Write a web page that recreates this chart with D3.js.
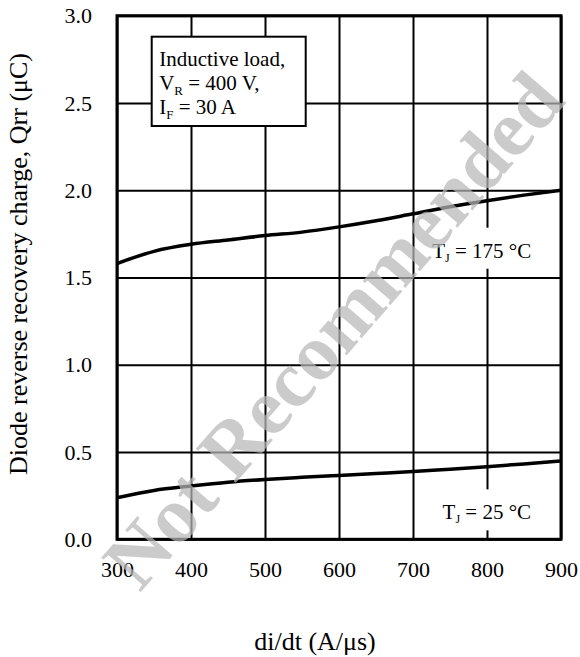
<!DOCTYPE html>
<html>
<head>
<meta charset="utf-8">
<script src="https://cdn.jsdelivr.net/npm/d3@7"></script>
<style>
  html, body { margin: 0; padding: 0; background: #fff; }
  svg { display: block; font-family: "Liberation Serif", "Times New Roman", serif; }
</style>
</head>
<body>
<svg id="chart" width="580" height="657"></svg>
<script>
// di/dt values (A/µs) and recovery charge Qrr (µC) per junction temperature
const didt = [300, 350, 400, 450, 500, 550, 600, 650, 700, 750, 800, 850, 900];
const qrr175 = [1.58, 1.65, 1.69, 1.715, 1.74, 1.76, 1.79, 1.825, 1.865, 1.905, 1.94, 1.972, 2.0];
const qrr25 = [0.238, 0.28, 0.305, 0.327, 0.343, 0.355, 0.366, 0.377, 0.388, 0.402, 0.416, 0.432, 0.449];
const xTicks = [300, 400, 500, 600, 700, 800, 900];
const yTicks = [0.0, 0.5, 1.0, 1.5, 2.0, 2.5, 3.0];

const svg = d3.select("#chart");
const plotL = 117, plotR = 561, plotT = 15.7, plotB = 539.3;
const w = plotR - plotL, h = plotB - plotT;

const x = d3.scaleLinear().domain([300, 900]).range([0, w]);
const y = d3.scaleLinear().domain([0, 3]).range([h, 0]);

const g = svg.append("g").attr("transform", `translate(${plotL},${plotT})`);

// vertical grid + x tick labels
const xAxis = g.append("g")
  .attr("transform", `translate(0,${h})`)
  .call(d3.axisBottom(x).tickValues(xTicks).tickSize(-h).tickPadding(22).tickFormat(d3.format("d")));
xAxis.select(".domain").remove();
xAxis.selectAll("line").attr("stroke", "#000").attr("stroke-width", 2);
xAxis.selectAll("text").attr("font-size", 22).attr("fill", "#000")
  .attr("font-family", "Liberation Serif, serif");

// horizontal grid + y tick labels
const yAxis = g.append("g")
  .call(d3.axisLeft(y).tickValues(yTicks).tickSize(-w).tickPadding(25).tickFormat(d3.format(".1f")));
yAxis.select(".domain").remove();
yAxis.selectAll("line").attr("stroke", "#000").attr("stroke-width", 2);
yAxis.selectAll("text").attr("font-size", 22).attr("fill", "#000")
  .attr("font-family", "Liberation Serif, serif");

// plot frame
g.append("rect").attr("x", 0).attr("y", 0).attr("width", w).attr("height", h)
  .attr("fill", "none").attr("stroke", "#000").attr("stroke-width", 3);

// curves
const line = d3.line().x((d, i) => x(didt[i])).y(d => y(d)).curve(d3.curveMonotoneX);
[qrr175, qrr25].forEach(s => {
  g.append("path").datum(s).attr("d", line)
    .attr("fill", "none").attr("stroke", "#000").attr("stroke-width", 3.5);
});

// curve labels on white patches
function tempLabel(tx, baseline, temp) {
  g.append("rect").attr("x", tx - 8).attr("y", baseline - 30).attr("width", 118).attr("height", 41)
    .attr("fill", "#fff");
  const t = g.append("text").attr("x", tx).attr("y", baseline)
    .attr("font-size", 21).attr("fill", "#000");
  t.append("tspan").text("T");
  t.append("tspan").attr("font-size", 12).attr("dy", 4).text("J");
  t.append("tspan").attr("dy", -4).text(` = ${temp} °C`);
}
tempLabel(x(726), y(1.665) + 9, 175);
tempLabel(x(740), y(0.16) + 8, 25);

// conditions box
const bx = 151.7 - plotL, by = 36.7 - plotT;
g.append("rect").attr("x", bx).attr("y", by).attr("width", 154).attr("height", 89.3)
  .attr("fill", "#fff").attr("stroke", "#000").attr("stroke-width", 2);
const cond = g.append("text").attr("font-size", 21).attr("fill", "#000");
cond.append("tspan").attr("x", bx + 7.5).attr("y", by + 29).text("Inductive load,");
cond.append("tspan").attr("x", bx + 7.5).attr("y", by + 53.5).text("V");
cond.append("tspan").attr("font-size", 13).attr("dy", 5).text("R");
cond.append("tspan").attr("dy", -5).text(" = 400 V,");
cond.append("tspan").attr("x", bx + 7.5).attr("y", by + 77.5).text("I");
cond.append("tspan").attr("font-size", 13).attr("dy", 5).text("F");
cond.append("tspan").attr("dy", -5).text(" = 30 A");

// axis titles
svg.append("text").attr("x", 315).attr("y", 650).attr("text-anchor", "middle")
  .attr("font-size", 26).text("di/dt (A/μs)");
svg.append("text").attr("transform", "translate(27,264) rotate(-90)").attr("text-anchor", "middle")
  .attr("font-size", 26).text("Diode reverse recovery charge, Qrr (μC)");

// watermark
svg.append("text").attr("transform", "translate(333,330) rotate(-49)")
  .attr("text-anchor", "middle").attr("dominant-baseline", "central")
  .attr("font-size", 80).attr("font-weight", "bold").attr("fill", "#b8b8b8").attr("opacity", 0.72)
  .text("Not Recommended");
</script>
</body>
</html>
